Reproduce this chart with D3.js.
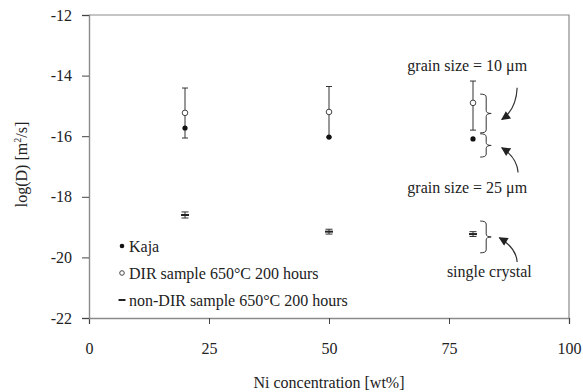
<!DOCTYPE html>
<html>
<head>
<meta charset="utf-8">
<script src="https://cdn.jsdelivr.net/npm/d3@7"></script>
<style>
  body { margin: 0; background: #fff; }
  text { font-family: "Liberation Serif", "Times New Roman", serif; fill: #222; }
</style>
</head>
<body>
<div id="chart"></div>
<script>
// data
const nickel = [20, 50, 80];
const kaja = [-15.73, -16.03, -16.09];
const dirValue = [-15.23, -15.2, -14.9];
const dirUpper = [-14.41, -14.36, -14.18];
const dirLower = [-16.06, -16.03, -15.8];
const nonDirValue = [-18.6, -19.15, -19.23];
const nonDirErr = [0.1, 0.08, 0.08];

const xTicks = [0, 25, 50, 75, 100];
const yTicks = [-12, -14, -16, -18, -20, -22];

const legendLabels = ["Kaja", "DIR sample 650\u00b0C 200 hours", "non-DIR sample 650\u00b0C 200 hours"];

// braces: [x, top, bottom] and arrows: [fromX, fromY, toX, toY] in data units
const braces = [[81.5, -14.61, -15.89], [81.5, -15.92, -16.69], [81.5, -18.8, -19.85]];
const arrows = [[89.2, -14.4, 86.0, -15.45], [89.4, -17.2, 86.0, -16.38], [89.2, -20.15, 85.5, -19.35]];
const notes = [["grain size = 10 \u03bcm", 78.8, -13.85], ["grain size = 25 \u03bcm", 78.8, -17.88], ["single crystal", 83.4, -20.65]];

const margin = { top: 15, right: 14, bottom: 74, left: 89 };
const width = 583 - margin.left - margin.right;
const height = 392 - margin.top - margin.bottom;

const svg = d3.select("#chart")
    .append("svg")
    .attr("width", 583)
    .attr("height", 392);

const defs = svg.append("defs");
defs.append("marker")
    .attr("id", "head")
    .attr("viewBox", "0 0 10 10")
    .attr("refX", 9)
    .attr("refY", 5)
    .attr("markerWidth", 11)
    .attr("markerHeight", 9)
    .attr("markerUnits", "userSpaceOnUse")
    .attr("orient", "auto")
    .append("path")
    .attr("d", "M0,0 L10,5 L0,10 Z")
    .attr("fill", "#222");

const g = svg.append("g")
    .attr("transform", `translate(${margin.left}, ${margin.top})`);

const x = d3.scaleLinear().domain([0, 100]).range([0, width]);
const y = d3.scaleLinear().domain([-22, -12]).range([height, 0]);

// frame: top and right lines
g.append("path")
    .attr("d", `M0,0 H${width} V${height}`)
    .attr("fill", "none")
    .attr("stroke", "#8a8a8a")
    .attr("stroke-width", 1.2);

// axes
const xAxis = g.append("g")
    .attr("transform", `translate(0, ${height})`)
    .call(d3.axisBottom(x).tickValues(xTicks).tickSize(6).tickPadding(19).tickFormat(d => String(d)));

const yAxis = g.append("g")
    .call(d3.axisLeft(y).tickValues(yTicks).tickSize(7).tickPadding(10).tickFormat(d => String(d)));

[xAxis, yAxis].forEach(a => {
    a.select(".domain").attr("stroke", "#8a8a8a").attr("stroke-width", 1.4);
    a.selectAll(".tick line").attr("stroke", "#444");
    a.selectAll(".tick text")
        .style("font-family", "Liberation Serif")
        .style("font-size", "16px")
        .attr("fill", "#222");
});

// axis titles
g.append("text")
    .attr("x", width / 2)
    .attr("y", height + 70)
    .attr("text-anchor", "middle")
    .style("font-size", "16px")
    .text("Ni concentration [wt%]");

const yTitle = g.append("text")
    .attr("transform", `translate(${-62}, ${height / 2 - 2}) rotate(-90)`)
    .attr("text-anchor", "middle")
    .style("font-size", "16px");
yTitle.append("tspan").text("log(D) [m");
yTitle.append("tspan").attr("dy", -6).style("font-size", "10px").text("2");
yTitle.append("tspan").attr("dy", 6).text("/s]");

// DIR error bars
const cap = 3;
nickel.forEach((n, i) => {
    const cx = x(n);
    g.append("path")
        .attr("d", `M${cx},${y(dirUpper[i])} V${y(dirLower[i])}` +
            ` M${cx - cap},${y(dirUpper[i])} H${cx + cap}` +
            ` M${cx - cap},${y(dirLower[i])} H${cx + cap}`)
        .attr("stroke", "#333")
        .attr("stroke-width", 1)
        .attr("fill", "none");
});

// non-DIR error bars and dash markers
nickel.forEach((n, i) => {
    const cx = x(n);
    const top = y(nonDirValue[i] + nonDirErr[i]);
    const bot = y(nonDirValue[i] - nonDirErr[i]);
    g.append("path")
        .attr("d", `M${cx},${top} V${bot} M${cx - 3.5},${top} H${cx + 3.5} M${cx - 3.5},${bot} H${cx + 3.5}`)
        .attr("stroke", "#333")
        .attr("stroke-width", 1)
        .attr("fill", "none");
    g.append("line")
        .attr("x1", cx - 4).attr("x2", cx + 4)
        .attr("y1", y(nonDirValue[i])).attr("y2", y(nonDirValue[i]))
        .attr("stroke", "#222")
        .attr("stroke-width", 2);
});

// DIR open circles
g.selectAll("circle.dir")
    .data(nickel)
    .enter()
    .append("circle")
    .attr("class", "dir")
    .attr("cx", d => x(d))
    .attr("cy", (d, i) => y(dirValue[i]))
    .attr("r", 2.8)
    .attr("fill", "#fff")
    .attr("stroke", "#444")
    .attr("stroke-width", 1);

// Kaja filled dots
g.selectAll("circle.kaja")
    .data(nickel)
    .enter()
    .append("circle")
    .attr("class", "kaja")
    .attr("cx", d => x(d))
    .attr("cy", (d, i) => y(kaja[i]))
    .attr("r", 2.6)
    .attr("fill", "#111");

// legend
const legend = g.append("g").attr("transform", "translate(33, 231)");
legendLabels.forEach((label, i) => {
    const row = legend.append("g").attr("transform", `translate(0, ${i * 27})`);
    if (i === 0) {
        row.append("circle").attr("r", 2.3).attr("fill", "#111");
    } else if (i === 1) {
        row.append("circle").attr("r", 2.3).attr("fill", "#fff").attr("stroke", "#444");
    } else {
        row.append("line").attr("x1", -3.5).attr("x2", 3.5).attr("stroke", "#222").attr("stroke-width", 2);
    }
    row.append("text")
        .attr("x", 7)
        .attr("y", 6)
        .style("font-size", "16px")
        .text(label);
});

// braces
braces.forEach(([bx, b0, b1]) => {
    const x0 = x(bx), y0 = y(b0), y1 = y(b1), ym = (y0 + y1) / 2;
    const q = 6, w = 11, r = 3;
    g.append("path")
        .attr("d", `M${x0},${y0} Q${x0 + q},${y0} ${x0 + q},${y0 + r}` +
            ` L${x0 + q},${ym - r} Q${x0 + q},${ym} ${x0 + w},${ym}` +
            ` Q${x0 + q},${ym} ${x0 + q},${ym + r}` +
            ` L${x0 + q},${y1 - r} Q${x0 + q},${y1} ${x0},${y1}`)
        .attr("fill", "none")
        .attr("stroke", "#333")
        .attr("stroke-width", 1);
});

// curved arrows
arrows.forEach(([fx, fy, tx, ty]) => {
    const x0 = x(fx), y0 = y(fy), x1 = x(tx), y1 = y(ty);
    const cy = y1 + (y0 > y1 ? 10 : -10);
    g.append("path")
        .attr("d", `M${x0},${y0} Q${x0 - 1},${cy} ${x1},${y1}`)
        .attr("fill", "none")
        .attr("stroke", "#333")
        .attr("stroke-width", 1.2)
        .attr("marker-end", "url(#head)");
});

// annotation texts
notes.forEach(([t, nx, ny]) => {
    g.append("text")
        .attr("x", x(nx))
        .attr("y", y(ny))
        .attr("text-anchor", "middle")
        .style("font-size", "16px")
        .text(t);
});
</script>
</body>
</html>
